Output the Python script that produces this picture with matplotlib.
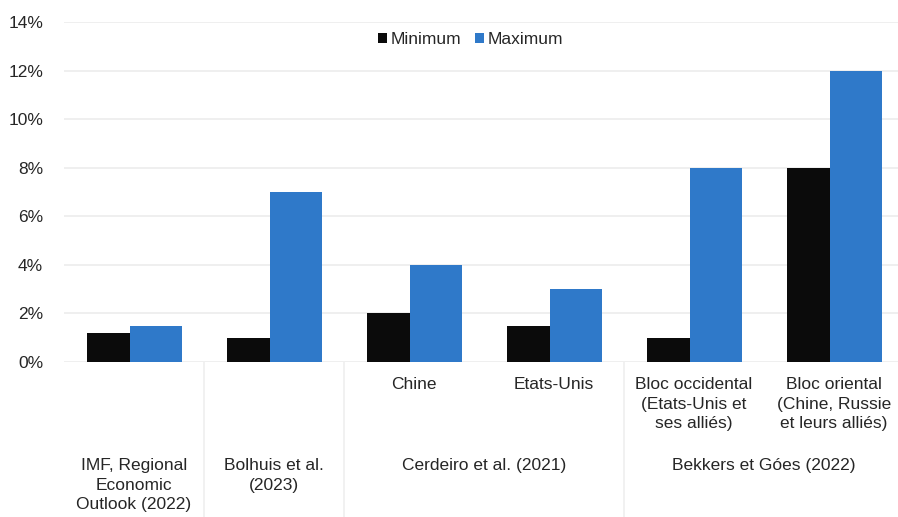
import numpy as np
import matplotlib.pyplot as plt
from matplotlib.ticker import FuncFormatter
from matplotlib.transforms import blended_transform_factory

plt.rcParams['font.family'] = ['Liberation Sans', 'DejaVu Sans']

# estimates of the tariff-fragmentation GDP losses, % of GDP
sub_labels = ['', '', 'Chine', 'Etats-Unis',
              'Bloc occidental\n(Etats-Unis et\nses alliés)',
              'Bloc oriental\n(Chine, Russie\net leurs alliés)']
group_labels = ['IMF, Regional\nEconomic\nOutlook (2022)', 'Bolhuis et al.\n(2023)',
                'Cerdeiro et al. (2021)', 'Bekkers et Góes (2022)']
group_spans = [(0, 0), (1, 1), (2, 3), (4, 5)]
minimum = [1.2, 1.0, 2.0, 1.5, 1.0, 8.0]
maximum = [1.5, 7.0, 4.0, 3.0, 8.0, 12.0]

black = '#0b0b0b'
blue = '#2f79c9'
text_col = '#262626'
fs = 12.5

fig = plt.figure(figsize=(8.98, 5.17), dpi=100)
ax = fig.add_axes([64 / 898, 155 / 517, 840 / 898, 340 / 517])

x = np.arange(len(minimum))
ax.bar(x - 0.335, minimum, width=0.306, align='edge', color=black, label='Minimum', zorder=3)
ax.bar(x - 0.029, maximum, width=0.372, align='edge', color=blue, label='Maximum', zorder=3)

ax.set_xlim(-0.5, len(x) - 0.5)
ax.set_ylim(0, 14)
ax.set_yticks(np.arange(0, 15, 2))
ax.yaxis.set_major_formatter(FuncFormatter(lambda v, p: f'{v:.0f}%'))
ax.tick_params(axis='y', length=0, labelsize=fs, labelcolor=text_col, pad=15)
ax.set_xticks([])
ax.grid(axis='y', color='#ececec', linewidth=1.2, zorder=0)
for s in ax.spines.values():
    s.set_visible(False)

# two-level category labels under the axis
tr = blended_transform_factory(ax.transData, fig.transFigure)
for i, lab in enumerate(sub_labels):
    if lab:
        ax.text(i, 1 - 377 / 517, lab, transform=tr, ha='center', va='top',
                fontsize=fs, color=text_col, linespacing=1.38)
for lab, (a, b) in zip(group_labels, group_spans):
    ax.text((a + b) / 2, 1 - 458 / 517, lab, transform=tr, ha='center', va='top',
            fontsize=fs, color=text_col, linespacing=1.38)

# faint separators between groups
for a, b in group_spans[1:]:
    ax.plot([a - 0.5, a - 0.5], [0, 155 / 517], transform=tr, color='#efefef',
            linewidth=1.2, clip_on=False)

leg = ax.legend(loc='upper center', bbox_to_anchor=(0.484, 1.012), ncol=2, frameon=True,
                fontsize=fs, handlelength=0.5, handleheight=0.5, handletextpad=0.2,
                columnspacing=0.8, borderpad=0.3)
leg.get_frame().set_facecolor('white')
leg.get_frame().set_edgecolor('none')
leg.get_frame().set_alpha(1)
for t in leg.get_texts():
    t.set_color(text_col)

fig.savefig('out.png', dpi=100, facecolor='white')
